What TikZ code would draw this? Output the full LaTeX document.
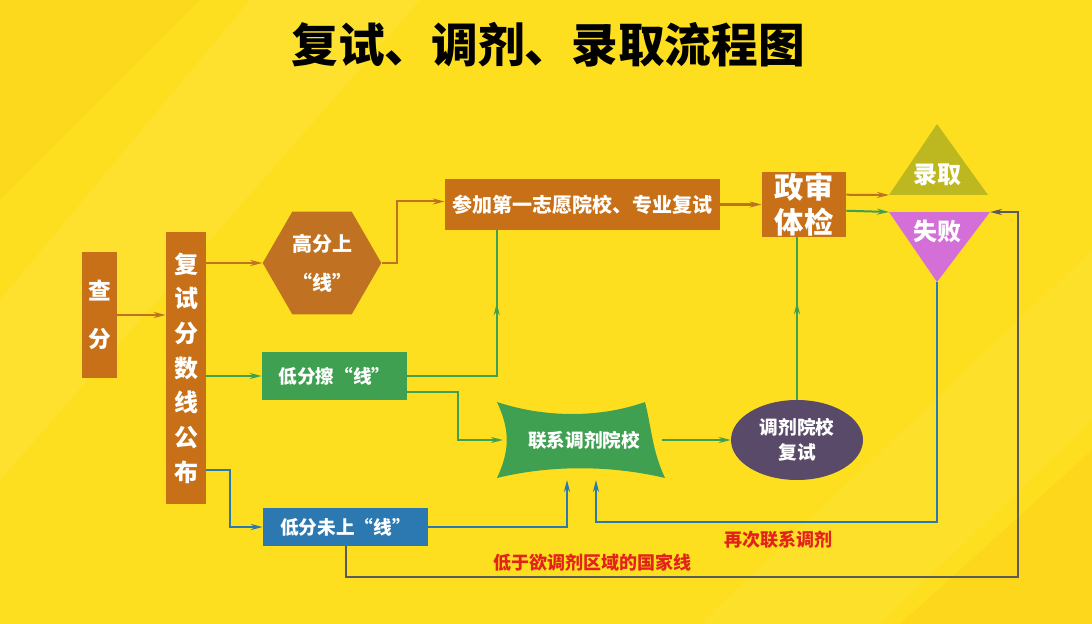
\documentclass[tikz,border=0pt]{standalone}
\usepackage{fontspec}
\setmainfont{Noto Sans CJK SC}
\usetikzlibrary{shapes.geometric,arrows.meta,calc,decorations.markings}
\definecolor{bg}{HTML}{FDDF1F}
\definecolor{org}{HTML}{C87018}
\definecolor{hexc}{HTML}{C07222}
\definecolor{grn}{HTML}{40A052}
\definecolor{blu}{HTML}{2C78B0}
\definecolor{pur}{HTML}{5A4A6A}
\definecolor{olv}{HTML}{BDB820}
\definecolor{pnk}{HTML}{D56FD8}
\definecolor{redt}{HTML}{E2231A}
\definecolor{gry}{HTML}{5A5A5A}
\tikzset{
 box/.style={draw=none,fill=#1,text=white,font=\bfseries\fontsize{14}{17}\selectfont,inner sep=0pt,align=center},
 ln/.style={line width=1.5pt,draw=#1},
 tip/.style={-{Stealth[length=9pt,width=4.5pt]}},
 midarr/.style={postaction={decorate,decoration={markings,mark=at position #1 with {\arrow{Stealth[length=9pt,width=4.5pt]}}}}},
 lab/.style={text=redt,font=\bfseries\fontsize{13.5}{15}\selectfont}
}
\begin{document}
\begin{tikzpicture}[x=0.75pt,y=-0.75pt]
\fill[bg] (0,0) rectangle (1092,624);
\useasboundingbox (0,0) rectangle (1092,624);
\fill[white,opacity=0.07] (0,300) -- (250,0) -- (420,0) -- (0,480) -- cycle;
\fill[white,opacity=0.05] (700,624) -- (1092,250) -- (1092,420) -- (880,624) -- cycle;
\fill[orange,opacity=0.08] (1092,450) -- (1092,624) -- (900,624) -- cycle;
\fill[orange,opacity=0.06] (0,0) -- (200,0) -- (0,200) -- cycle;
% title
\node (title) at (548,45) {\bfseries\fontsize{35}{40}\selectfont 复试、调剂、录取流程图};
% nodes
\node[box=org,minimum width=26.25pt,minimum height=94.5pt,font=\bfseries\fontsize{17}{36}\selectfont] (cf) at (99.5,315) {查\\分};
\node[box=org,minimum width=30pt,minimum height=204pt,font=\bfseries\fontsize{18}{26}\selectfont] (fs) at (186,368) {复\\试\\分\\数\\线\\公\\布};
\node[box=hexc,regular polygon,regular polygon sides=6,minimum size=89pt,font=\bfseries\fontsize{15}{29}\selectfont] (hex) at (322,263) {高分上\\“线”};
\node[box=org,minimum width=206.25pt,minimum height=38.25pt,font=\bfseries\fontsize{15}{17}\selectfont] (cj) at (582.5,204.5) {参加第一志愿院校、专业复试};
\node[box=org,minimum width=63pt,minimum height=48.75pt,font=\bfseries\fontsize{22}{26}\selectfont] (zs) at (804,204.5) {政审\\体检};
\node[box=grn,minimum width=108.75pt,minimum height=36pt] (dfc) at (334.5,376) {低分擦“线”};
\node[box=blu,minimum width=123.75pt,minimum height=28.5pt] (dwc) at (345.5,527) {低分未上“线”};
\node[box=pur,ellipse,minimum width=99pt,minimum height=60pt,font=\bfseries\fontsize{14}{19}\selectfont] (tj) at (797,440) {调剂院校\\复试};
% contact shape
\fill[grn] (497,402) .. controls (545,418) and (600,418) .. (645,402)
  .. controls (652,430) and (652,450) .. (665,478)
  .. controls (610,465) and (550,465) .. (497,478)
  .. controls (510,450) and (510,430) .. (497,402) -- cycle;
\node[text=white,font=\bfseries\fontsize{14}{16}\selectfont] (lx) at (584,440) {联系调剂院校};
\coordinate (lxW) at (503,440);
\coordinate (lxE) at (662,440);
\coordinate (lxB1) at (567,480);
\coordinate (lxB2) at (596,480);
% triangles
\coordinate (lqL) at (889,195); \coordinate (lqR) at (988,195); \coordinate (lqT) at (937,124);
\coordinate (sbL) at (889,212); \coordinate (sbR) at (990,212); \coordinate (sbA) at (937,282);
\fill[olv] (lqL) -- (lqR) -- (lqT) -- cycle;
\fill[pnk] (sbL) -- (sbR) -- (sbA) -- cycle;
\node[text=white,font=\bfseries\fontsize{18}{20}\selectfont] (lq) at (937,175) {录取};
\node[text=white,font=\bfseries\fontsize{18}{20}\selectfont] (sb) at (937,231) {失败};
% connectors
\draw[ln=hexc,tip] (cf.east) -- (cf.east -| fs.west);
\draw[ln=hexc,tip] (hex.west -| fs.east) -- (hex.west);
\draw[ln=hexc,tip] (hex.east) -- ++(15,0) |- ($(cj.west)+(0,-3)$);
\draw[ln=hexc,tip] (cj.east) -- (zs.west);
\draw[ln=hexc,tip] ($(zs.north east)+(0,23)$) -- (lqL);
\draw[ln=grn,tip] ($(zs.north east)+(0,39)$) -- (sbL);
\draw[ln=grn,tip] (dfc.west -| fs.east) -- (dfc.west);
\draw[ln=grn,midarr=0.69] (dfc.east) -| ($(cj.south west)+(52,0)$);
\draw[ln=grn,tip] ($(dfc.south east)+(0,-8)$) -- ++(51,0) |- (lxW);
\draw[ln=grn,tip] (lxE) -- (tj.west);
\draw[ln=grn,midarr=0.6] (tj.north) -- (tj.north |- zs.south);
\draw[ln=blu,tip] ($(fs.south east)+(0,-34)$) -- ++(24,0) |- (dwc.west);
\draw[ln=blu,tip] (dwc.east) -| (lxB1);
\draw[ln=blu,tip] (sbA) |- ($(lxB2)+(0,42)$) -- (lxB2);
\draw[ln=gry,tip] (dwc.south) |- (1018,577) |- (sbR);
\node[lab] (l1) at (778,540) {再次联系调剂};
\node[lab] (l2) at (592,563) {低于欲调剂区域的国家线};
\end{tikzpicture}
\end{document}
